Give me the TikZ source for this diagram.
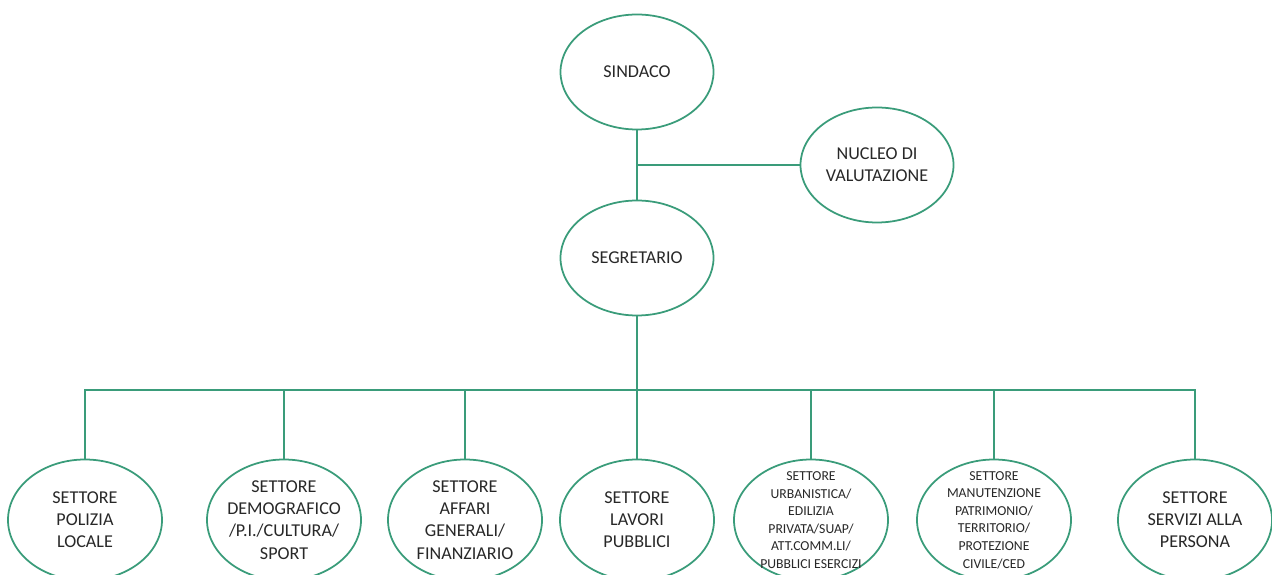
\documentclass[tikz,border=0pt]{standalone}
\usepackage{fontspec}
\setmainfont{Carlito}
\usetikzlibrary{shapes.geometric}
\definecolor{orggreen}{RGB}{58,156,122}
\definecolor{labelgray}{RGB}{40,40,40}

\begin{document}
\begin{tikzpicture}[
    office/.style={ellipse, draw=orggreen, line width=1pt, fill=white, inner sep=-8pt,
        minimum width=3.06cm, minimum height=2.3cm, align=center, text=labelgray,
        font=\fontsize{10.3}{12.6}\selectfont},
    settore/.style={office, minimum width=3.08cm, minimum height=2.42cm},
    smalltext/.style={font=\fontsize{7.8}{10}\selectfont},
    link/.style={draw=orggreen, line width=1.1pt}
  ]
  \useasboundingbox (0,0) rectangle (25.44,-11.5);

  % Top level
  \node[office] (sindaco) at (12.74,-1.44) {SINDACO};
  \node[office] (nucleo) at (17.54,-3.30) {NUCLEO DI\\VALUTAZIONE};
  \node[office] (segretario) at (12.74,-5.16) {SEGRETARIO};

  % Sectors
  \node[settore] (polizia) at (1.70,-10.40) {SETTORE\\POLIZIA\\LOCALE};
  \node[settore] (demografico) at (5.68,-10.40) {SETTORE\\DEMOGRAFICO\\/P.I./CULTURA/\\SPORT};
  \node[settore] (affari) at (9.30,-10.40) {SETTORE\\AFFARI\\GENERALI/\\FINANZIARIO};
  \node[settore] (lavori) at (12.74,-10.40) {SETTORE\\LAVORI\\PUBBLICI};
  \node[settore, smalltext] (urbanistica) at (16.22,-10.40) {SETTORE\\URBANISTICA/\\EDILIZIA\\PRIVATA/SUAP/\\ATT.COMM.LI/\\PUBBLICI ESERCIZI};
  \node[settore, smalltext] (manutenzione) at (19.88,-10.40) {SETTORE\\MANUTENZIONE\\PATRIMONIO/\\TERRITORIO/\\PROTEZIONE\\CIVILE/CED};
  \node[settore] (servizi) at (23.90,-10.40) {SETTORE\\SERVIZI ALLA\\PERSONA};

  % Connectors
  \path[link] (sindaco) -- (segretario);
  \path[link] (nucleo) -- (nucleo -| sindaco);
  \coordinate (bus) at (12.74,-7.80);
  \foreach \s in {polizia, demografico, affari, lavori, urbanistica, manutenzione, servizi}
    \path[link] (segretario) -- (bus) -| (\s);
\end{tikzpicture}
\end{document}
